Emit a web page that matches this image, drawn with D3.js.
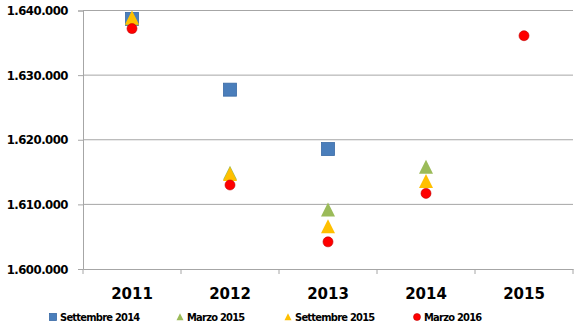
<!DOCTYPE html>
<html><head><meta charset="utf-8">
<script src="https://cdn.jsdelivr.net/npm/d3@7"></script>
<style>body{margin:0;background:#fff}svg{display:block}</style>
</head><body>
<script>
const categories = ["2011","2012","2013","2014","2015"];
const yTicks = [1600000,1610000,1620000,1630000,1640000];
const seriesNames = ["Settembre 2014","Marzo 2015","Settembre 2015","Marzo 2016"];
const sett2014 = [1638700,1627750,1618560,null,null];
const marzo2015 = [1638700,1614800,1609100,1615700,null];
const sett2015 = [1638800,1614600,1606500,1613500,null];
const marzo2016 = [1637200,1613000,1604200,1611700,1636100];
const colors = ["#4a7ebb","#9bbb59","#ffc000","#ff0000"];
const shapes = ["square","triangle","triangle","circle"];
const allSeries = [sett2014, marzo2015, sett2015, marzo2016];

(function(){
const W=583,H=334;
const svg=d3.select("body").append("svg").attr("width",W).attr("height",H);
const pL=83,pR=573,pT=10.5,pB=269;
const x=d3.scaleBand().domain(categories).range([pL,pR]);
const y=d3.scaleLinear().domain([1600000,1640000]).range([pB,pT]);
const fmt=v=>d3.format(",")(v).replace(/,/g,".");

svg.append("g").selectAll("line").data(yTicks.slice(1)).join("line")
 .attr("x1",pL).attr("x2",pR).attr("y1",d=>y(d)).attr("y2",d=>y(d))
 .attr("stroke","#a6a6a6").attr("stroke-width",1);

const ya=svg.append("g").attr("transform",`translate(${pL},0)`)
 .call(d3.axisLeft(y).tickValues(yTicks).tickSize(5).tickPadding(10).tickFormat(fmt));
ya.select(".domain").attr("stroke","#a6a6a6");
ya.selectAll(".tick line").attr("stroke","#a6a6a6");
ya.selectAll("text").attr("font-family","'DejaVu Sans Condensed','DejaVu Sans',sans-serif")
 .attr("font-weight","bold").attr("font-size","13px").attr("fill","#000").attr("letter-spacing","-0.5px");

const xa=svg.append("g").attr("transform",`translate(0,${pB})`)
 .call(d3.axisBottom(x).tickSize(0).tickPadding(19));
xa.select(".domain").attr("stroke","#a6a6a6");
xa.selectAll("text").attr("font-family","'DejaVu Sans',sans-serif")
 .attr("font-weight","bold").attr("font-size","15px").attr("fill","#000");
const bounds=[...categories.map(c=>x(c)),pR];
svg.append("g").selectAll("line").data(bounds).join("line")
 .attr("x1",d=>d).attr("x2",d=>d).attr("y1",pB).attr("y2",pB+5)
 .attr("stroke","#a6a6a6");

function marker(g,shape,color,size){
  if(shape==="square") g.append("rect").attr("x",-size/2).attr("y",-size/2).attr("width",size).attr("height",size)
    .attr("fill",color).attr("stroke","#3a6aa5").attr("stroke-width",0.8);
  else if(shape==="triangle") g.append("path").attr("d",`M0,${-size*0.55}L${size/2},${size*0.45}L${-size/2},${size*0.45}Z`).attr("fill",color);
  else g.append("circle").attr("r",size/2).attr("fill",color).attr("stroke","#c00000").attr("stroke-width",0.6);
}
const sizes=[13,14,14,10];
allSeries.forEach((s,i)=>{
  categories.forEach((c,j)=>{
    if(s[j]==null) return;
    const g=svg.append("g").attr("transform",`translate(${x(c)+x.bandwidth()/2},${y(s[j])})`);
    marker(g,shapes[i],colors[i],sizes[i]);
  });
});

const legX=[50,177,285,414];
const lg=svg.append("g");
seriesNames.forEach((n,i)=>{
  const g=lg.append("g").attr("transform",`translate(${legX[i]},317)`);
  const m=g.append("g").attr("transform","translate(3,0)");
  marker(m,shapes[i],colors[i],7);
  g.append("text").attr("x",10).attr("y",4).text(n)
   .attr("font-family","'DejaVu Sans Condensed','DejaVu Sans',sans-serif").attr("font-weight","bold")
   .attr("font-size","11px").attr("letter-spacing","-0.75px").attr("fill","#000");
});
})();
</script>
</body></html>
